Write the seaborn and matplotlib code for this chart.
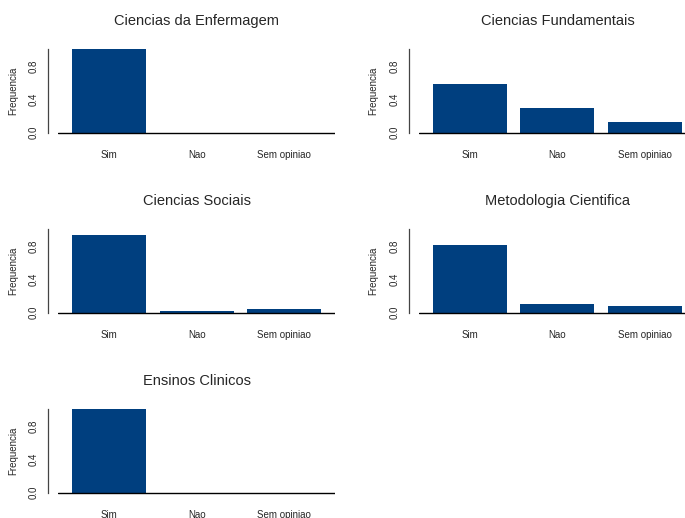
import numpy as np
import pandas as pd
import matplotlib
matplotlib.use("Agg")
import matplotlib.pyplot as plt
import seaborn as sns

# data
categorias = ["Sim", "Nao", "Sem opiniao"]
titulos = [
    "Ciencias da Enfermagem",
    "Ciencias Fundamentais",
    "Ciencias Sociais",
    "Metodologia Cientifica",
    "Ensinos Clinicos",
]
enfermagem = [1.0, 0.0, 0.0]
fundamentais = [0.585, 0.29, 0.13]
sociais = [0.935, 0.025, 0.045]
metodologia = [0.815, 0.105, 0.085]
clinicos = [1.0, 0.0, 0.0]
valores = [enfermagem, fundamentais, sociais, metodologia, clinicos]

sns.set_style("white")
plt.rcParams["font.family"] = ["Liberation Sans", "DejaVu Sans"]

cor = "#003F7F"
W, H = 685, 518
fig = plt.figure(figsize=(W / 100, H / 100), dpi=100)

col_left = [58.3, 419.0]
row_top = [46.0, 226.0, 406.0]
ax_w, ax_h = 277.0, 90.0

for i, (titulo, vals) in enumerate(zip(titulos, valores)):
    r, c = divmod(i, 2)
    ax = fig.add_axes([col_left[c] / W, 1 - (row_top[r] + ax_h) / H, ax_w / W, ax_h / H])
    df = pd.DataFrame({"Resposta": categorias, "Frequencia": vals})
    sns.barplot(data=df, x="Resposta", y="Frequencia", color=cor, saturation=1,
                width=0.846, ax=ax, edgecolor="none")
    ax.axhline(0, color="black", lw=1.0, zorder=3)
    ax.set_xlim(-0.582, 2.584)
    ax.set_ylim(-0.04, 1.04)

    for s in ["top", "right", "bottom"]:
        ax.spines[s].set_visible(False)
    ax.spines["left"].set_bounds(0, 1)
    ax.spines["left"].set_position(("outward", 7.2))
    ax.spines["left"].set_color("#444444")
    ax.spines["left"].set_linewidth(0.9)

    ax.set_yticks(np.arange(0, 1.01, 0.2))
    ax.set_yticklabels(["0.0", "", "0.4", "", "0.8", ""], rotation=90, va="center")
    ax.tick_params(axis="y", length=3, width=0.8, color="#444444", pad=4, labelsize=7)
    ax.tick_params(axis="x", length=0, pad=10, labelsize=7)

    ax.set_xlabel("")
    ax.set_ylabel("Frequencia", fontsize=7)
    ax.yaxis.set_label_coords((18 - col_left[c]) / ax_w if c == 0 else (378 - col_left[c]) / ax_w, 0.5)
    ax.set_title(titulo, fontsize=10.5, pad=15)

fig.savefig("out.png", dpi=100)
